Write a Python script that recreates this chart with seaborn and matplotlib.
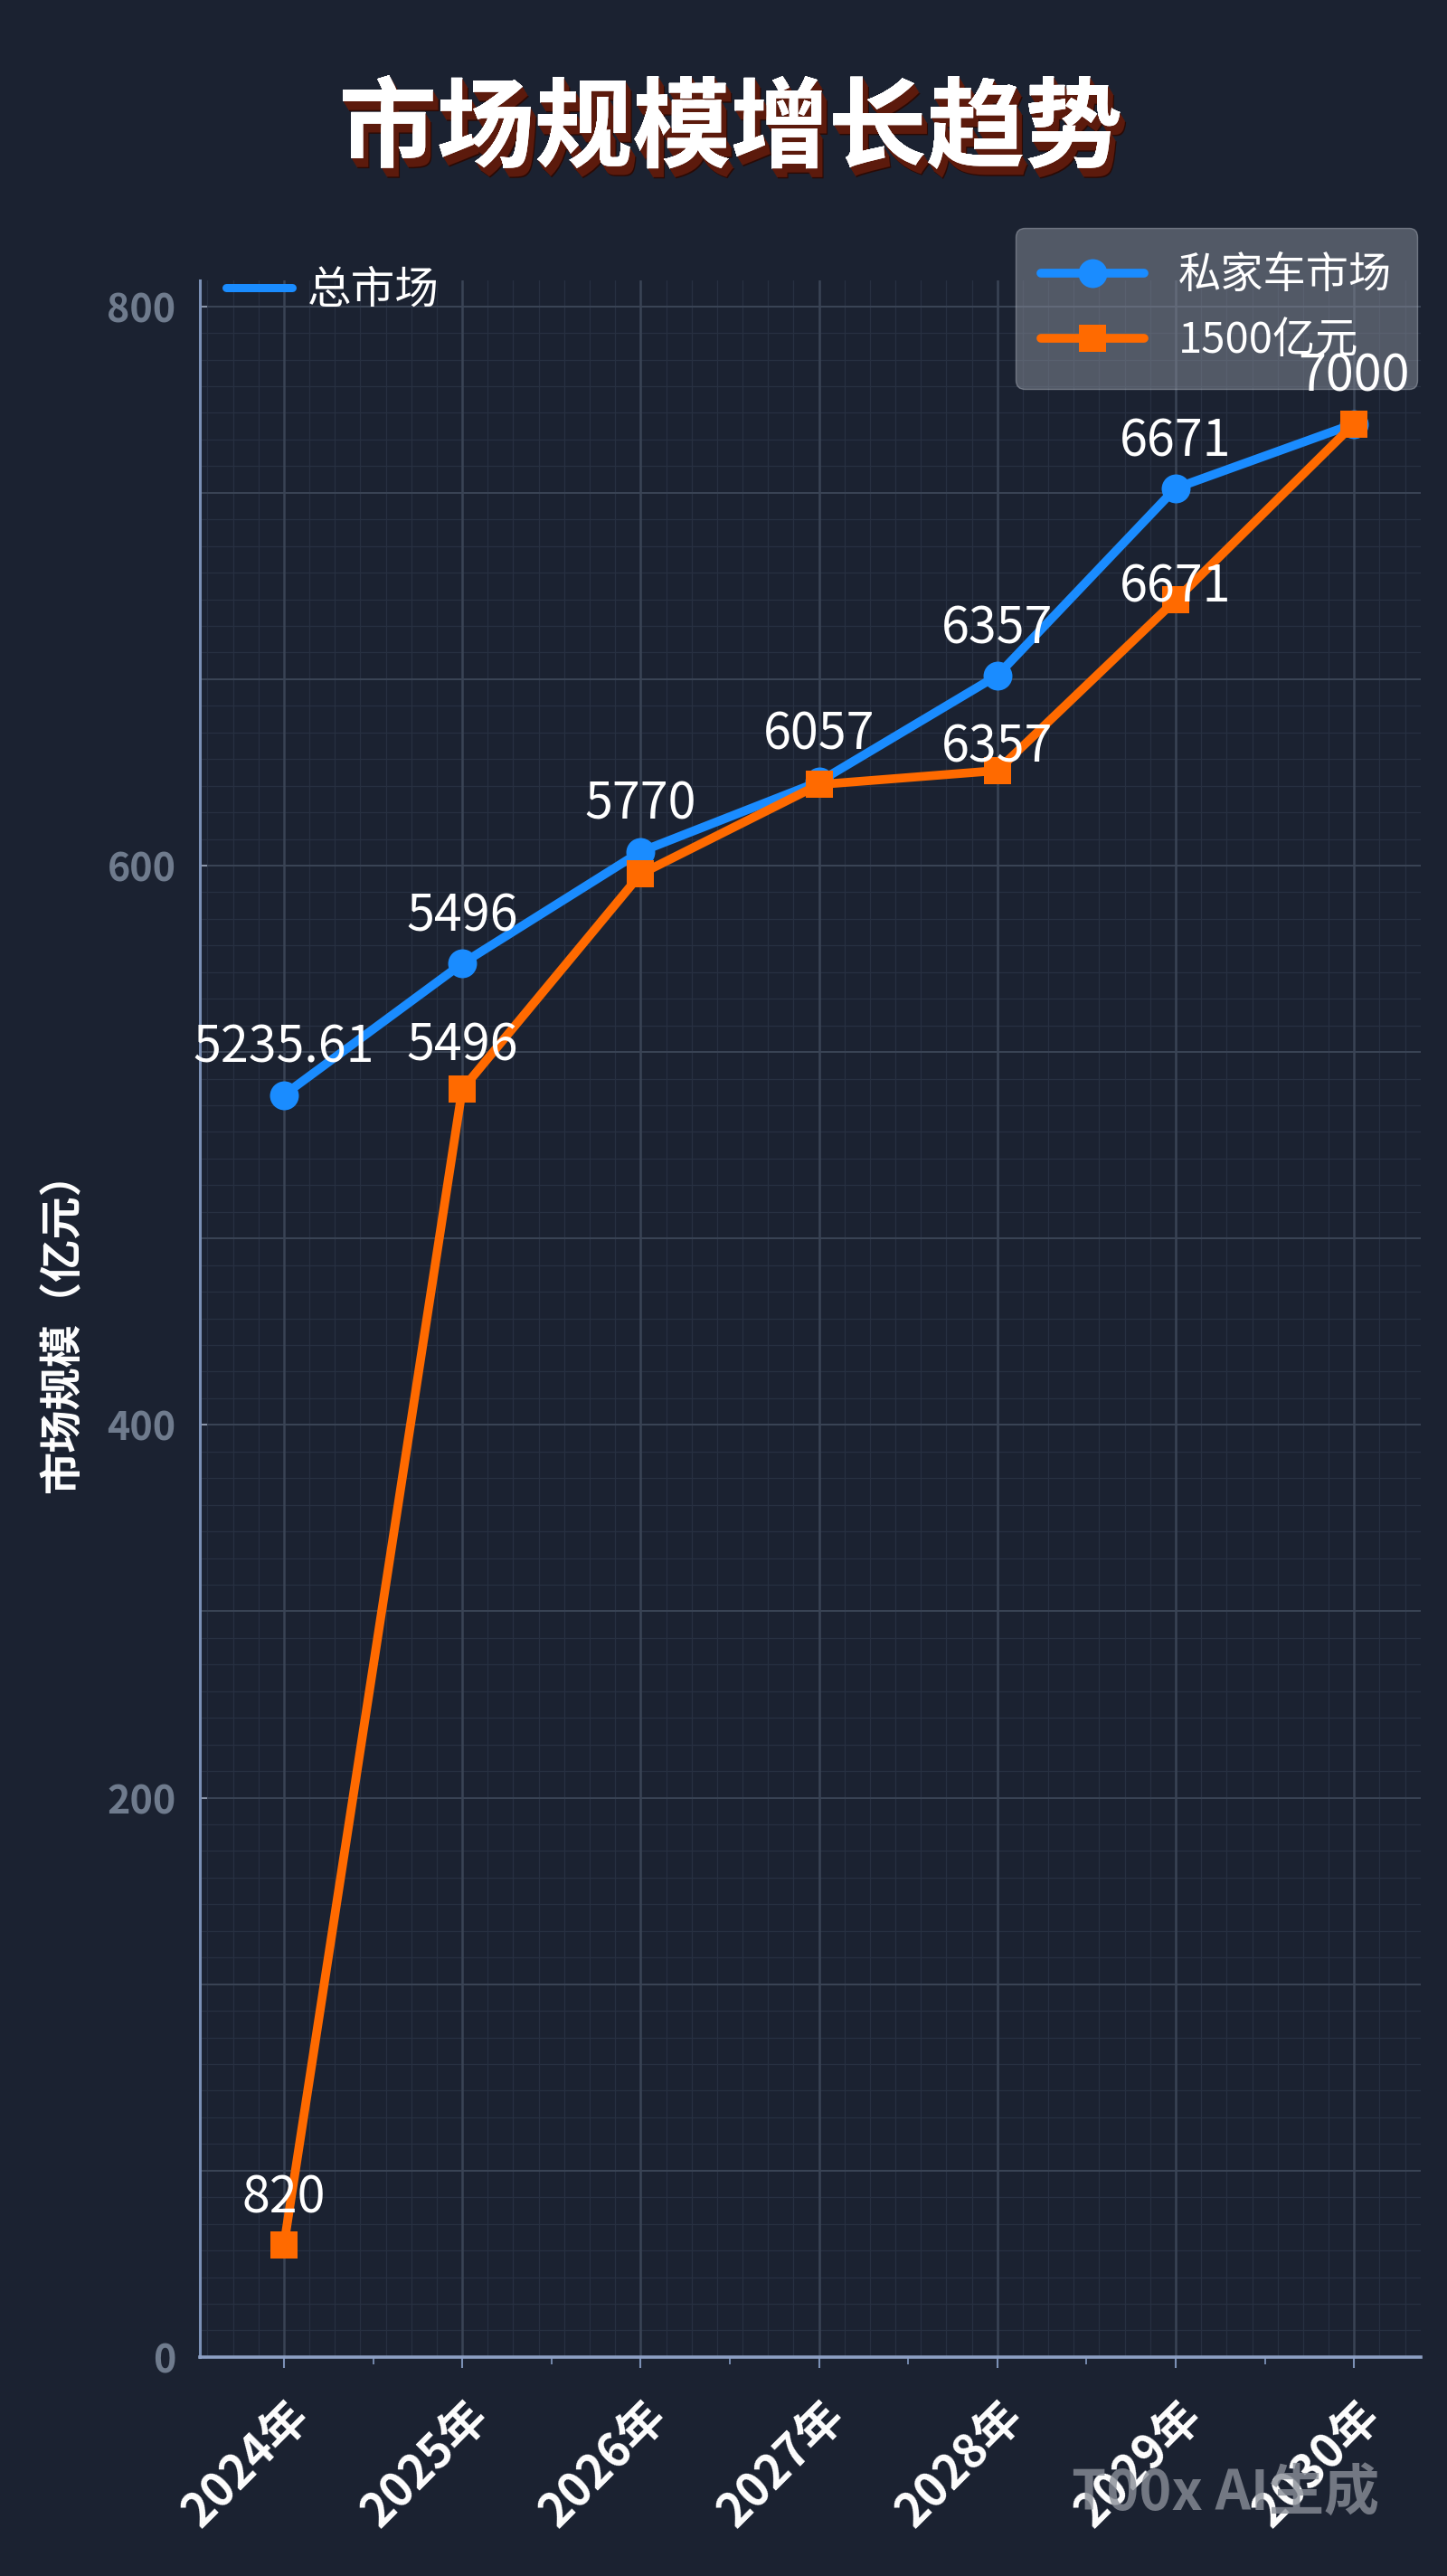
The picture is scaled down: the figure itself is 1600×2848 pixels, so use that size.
import numpy as np
import pandas as pd
import matplotlib
matplotlib.use("Agg")
import matplotlib.pyplot as plt
import matplotlib.patheffects as pe
from matplotlib.lines import Line2D
from matplotlib.ticker import FixedLocator
from matplotlib.transforms import ScaledTranslation
import seaborn as sns

# ---- data ----
years = ["2024年", "2025年", "2026年", "2027年", "2028年", "2029年", "2030年"]
private_car = [518, 565, 605, 630, 668, 735, 758]
market_1500 = [40, 520, 597, 629, 634, 695, 758]
private_labels = ["5235.61", "5496", "5770", "6057", "6357", "6671", "7000"]
market_labels = ["820", "5496", None, None, "6357", "6671", None]
y_ticks = [0, 200, 400, 600, 800]

# layout / style
orange_label_dy = [37, 34, 0, 0, 18, 10, 0]
BLUE = "#1a8cff"
ORANGE = "#ff6a00"
BG = "#1b2231"
MAJOR = "#3a4455"
MINOR = "#273041"
SPINE = "#7b90b5"

sns.set_theme(style="dark")
plt.rcParams["font.family"] = ["Noto Sans CJK SC", "DejaVu Sans"]

# the value axis is drawn on an uneven grid: 3,2,3,3 cells between the ticks
cell_vals = [-200, 0, 200, 400, 600, 800, 1000]
cell_pos = [-3, 0, 3, 5, 8, 11, 14]


def fwd(v):
    return np.interp(v, cell_vals, cell_pos)


def inv(u):
    return np.interp(u, cell_pos, cell_vals)


fig = plt.figure(figsize=(16, 28.48), dpi=100)
fig.patch.set_facecolor(BG)
ax = fig.add_axes([0.138, 0.085, 0.844, 0.8062])
ax.set_facecolor(BG)
ax.set_yscale("function", functions=(fwd, inv))

top_cell = 11.14
ax.set_xlim(-0.472, 6.375)
ax.set_ylim(0, inv(top_cell))

# grid
for k in np.arange(0, top_cell, 1 / 7):
    if abs(k - round(k)) > 1e-6:
        ax.axhline(inv(k), color=MINOR, lw=0.9, zorder=0)
for k in range(0, 12):
    ax.axhline(inv(k), color=MAJOR, lw=1.4, zorder=0.5)
for i in range(-1, 7):
    for j in range(1, 7):
        xv = i + j / 7
        if -0.472 < xv < 6.375:
            ax.axvline(xv, color=MINOR, lw=0.9, zorder=0)
for i in range(len(years)):
    ax.axvline(i, color=MAJOR, lw=1.8, zorder=0.5)

df = pd.DataFrame({"idx": range(len(years)), "private": private_car, "market": market_1500})

sns.lineplot(data=df, x="idx", y="private", ax=ax, color=BLUE, lw=7,
             marker="o", markersize=23, markeredgewidth=0, zorder=3)
blue_line = ax.lines[-1]
sns.lineplot(data=df, x="idx", y="market", ax=ax, color=ORANGE, lw=7,
             marker="s", markersize=21, markeredgewidth=0, zorder=4)
orange_line = ax.lines[-1]

# value labels
for i, t in enumerate(private_labels):
    if t:
        ax.annotate(t, (i, private_car[i]), xytext=(0, 37), textcoords="offset points",
                    ha="center", va="center", fontsize=40, color="white", zorder=6)
for i, t in enumerate(market_labels):
    if t:
        ax.annotate(t, (i, market_1500[i]), xytext=(0, orange_label_dy[i]),
                    textcoords="offset points", ha="center", va="center",
                    fontsize=40, color="white", zorder=6)

# axes styling
ax.set_xlabel("")
ax.set_ylabel("")
for s in ["top", "right"]:
    ax.spines[s].set_visible(False)
ax.spines["left"].set_color(SPINE)
ax.spines["left"].set_linewidth(2.2)
ax.spines["bottom"].set_color("#8ea0c4")
ax.spines["bottom"].set_linewidth(2.6)

ax.set_xticks(range(len(years)))
ax.set_xticklabels(years, rotation=45, ha="right", va="center",
                   rotation_mode="anchor", fontsize=37, fontweight="bold", color="white")
ax.xaxis.set_minor_locator(FixedLocator([i + 0.5 for i in range(len(years) - 1)]))
ax.tick_params(axis="x", which="major", length=8.6, width=1.5, color=SPINE, pad=33, bottom=True)
ax.tick_params(axis="x", which="minor", length=5.5, width=1.3, color=SPINE, bottom=True)
shift = ScaledTranslation(14 / 72, 0, fig.dpi_scale_trans)
for lab in ax.get_xticklabels():
    lab.set_transform(lab.get_transform() + shift)

ax.yaxis.set_major_locator(FixedLocator(y_ticks))
ax.yaxis.set_minor_locator(FixedLocator([]))
ax.set_yticklabels([str(v) for v in y_ticks], fontsize=31, fontweight="bold", color="#6f7b8d")
ax.tick_params(axis="y", which="major", direction="in", length=6, width=1.5,
               color="#8a95a8", pad=19, left=True)
ax.grid(False)

# legends
leg1 = ax.legend(handles=[Line2D([], [], color=BLUE, lw=6.5)], labels=["总市场"],
                 loc="upper left", bbox_to_anchor=(0.0215, 1.006), frameon=False,
                 fontsize=35, labelcolor="white", handlelength=1.5, handletextpad=0.35,
                 borderpad=0, borderaxespad=0)
ax.add_artist(leg1)
leg2 = ax.legend(handles=[blue_line, orange_line], labels=["私家车市场", "1500亿元"],
                 loc="upper right", bbox_to_anchor=(0.997, 1.025), borderaxespad=0,
                 fontsize=34, labelcolor="white", handlelength=2.4, handletextpad=0.8,
                 borderpad=0.6, labelspacing=0.5, frameon=True, fancybox=True,
                 facecolor="#8a909c", edgecolor="#a8aeb8", framealpha=0.5)
leg2.set_zorder(5)

# title with extruded shadow
shadow = [pe.withSimplePatchShadow(offset=(0.6 * k, -k), shadow_rgbFace="#5c1a0c", alpha=1.0)
          for k in range(7, 0, -1)]
fig.text(0.505, 0.949, "市场规模增长趋势", ha="center", va="center", fontsize=78,
         fontweight="bold", color="white",
         path_effects=[pe.withSimplePatchShadow(offset=(5, -8), shadow_rgbFace="#2a0a05", alpha=1.0)]
         + shadow + [pe.Normal()])

fig.text(0.043, 0.487, "市场规模（亿元）", rotation=90, ha="center", va="center",
         fontsize=34, fontweight="bold", color="white")

fig.text(0.847, 0.032, "T00x AI生成", ha="center", va="center", fontsize=44,
         fontweight="bold", color="#8a8f98", alpha=0.8)

fig.savefig("out.png", dpi=100, facecolor=fig.get_facecolor())
